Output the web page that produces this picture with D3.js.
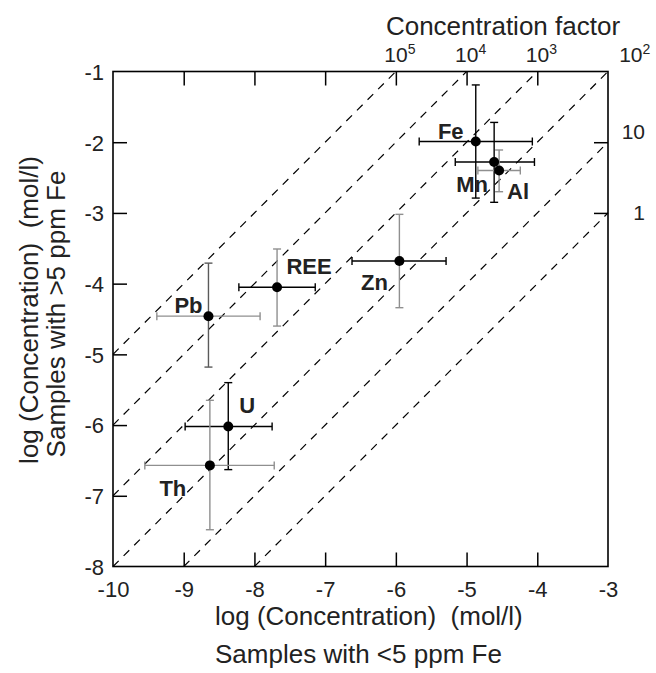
<!DOCTYPE html>
<html>
<head>
<meta charset="utf-8">
<script src="https://cdn.jsdelivr.net/npm/d3@7"></script>
<style>
  html, body { margin: 0; padding: 0; background: #fff; }
  svg { display: block; font-family: "Liberation Sans", Arial, Helvetica, sans-serif; }
  text { white-space: pre; }
</style>
</head>
<body>
<svg id="chart" width="656" height="673"></svg>
<script>
// ---- data ----
const elements = ["Fe", "Mn", "Al", "Pb", "REE", "Zn", "U", "Th"];
const xVal  = [-4.87, -4.61, -4.54, -8.65, -7.68, -5.95, -8.37, -8.63];
const yVal  = [-1.99, -2.28, -2.40, -4.46, -4.05, -3.68, -6.02, -6.57];
const xLow  = [-5.67, -5.16, -4.84, -9.38, -8.22, -6.62, -8.98, -9.55];
const xHigh = [-4.07, -4.04, -4.24, -7.92, -7.14, -5.29, -7.75, -7.72];
const yLow  = [-2.79, -2.85, -2.70, -5.18, -4.60, -4.34, -6.63, -7.48];
const yHigh = [-1.19, -1.72, -2.11, -3.71, -3.51, -3.02, -5.40, -5.65];

const xTicks = [-10, -9, -8, -7, -6, -5, -4, -3];
const yTicks = [-1, -2, -3, -4, -5, -6, -7, -8];
const factorLines = [0, 1, 2, 3, 4, 5];          // log10 concentration factor
const topFactorExp = [5, 4, 3, 2];
const topFactorX = [-6, -5, -4, -2.68];
const rightFactorLabel = ["10", "1"];
const rightFactorY = [-1.85, -3.0];

// ---- styles (separate from data) ----
const GRAY = "#8f8f8f", DGRAY = "#5a5a5a", BLACK = "#000";
const hColor = [BLACK, BLACK, GRAY, GRAY, BLACK, BLACK, BLACK, GRAY];
const vColor = [BLACK, BLACK, GRAY, DGRAY, GRAY, GRAY, BLACK, GRAY];
const labelOffset = [[-25, -3], [-22, 30], [19, 28], [-20, -3], [32, -13], [-25, 29], [19, -13], [-37, 31]];

// ---- layout ----
const L = 113, R = 608, T = 71.5, B = 566.5;
const svg = d3.select("#chart");
const x = d3.scaleLinear().domain([-10, -3]).range([L, R]);
const y = d3.scaleLinear().domain([-8, -1]).range([B, T]);

// dashed iso-factor lines y = x + c
const dash = svg.append("g");
factorLines.forEach(c => {
  const x0 = Math.max(-10, -8 - c), x1 = Math.min(-3, -1 - c);
  dash.append("line")
    .attr("x1", x(x0)).attr("y1", y(x0 + c))
    .attr("x2", x(x1)).attr("y2", y(x1 + c))
    .attr("stroke", "#000").attr("stroke-width", 1.2)
    .attr("stroke-dasharray", "8,7");
});

// error bars
const cap = 4;
const eb = svg.append("g").attr("stroke-width", 1.4).attr("fill", "none");
elements.forEach((e, i) => {
  const cx = x(xVal[i]), cy = y(yVal[i]);
  const hc = hColor[i], vc = vColor[i];
  eb.append("line").attr("x1", x(xLow[i])).attr("x2", x(xHigh[i])).attr("y1", cy).attr("y2", cy).attr("stroke", hc);
  eb.append("line").attr("x1", x(xLow[i])).attr("x2", x(xLow[i])).attr("y1", cy - cap).attr("y2", cy + cap).attr("stroke", hc);
  eb.append("line").attr("x1", x(xHigh[i])).attr("x2", x(xHigh[i])).attr("y1", cy - cap).attr("y2", cy + cap).attr("stroke", hc);
  eb.append("line").attr("x1", cx).attr("x2", cx).attr("y1", y(yLow[i])).attr("y2", y(yHigh[i])).attr("stroke", vc);
  eb.append("line").attr("x1", cx - cap).attr("x2", cx + cap).attr("y1", y(yLow[i])).attr("y2", y(yLow[i])).attr("stroke", vc);
  eb.append("line").attr("x1", cx - cap).attr("x2", cx + cap).attr("y1", y(yHigh[i])).attr("y2", y(yHigh[i])).attr("stroke", vc);
});

// points
svg.append("g").selectAll("circle").data(elements).join("circle")
  .attr("cx", (d, i) => x(xVal[i])).attr("cy", (d, i) => y(yVal[i]))
  .attr("r", 5).attr("fill", "#000");

// element labels
svg.append("g").selectAll("text").data(elements).join("text")
  .attr("x", (d, i) => x(xVal[i]) + labelOffset[i][0])
  .attr("y", (d, i) => y(yVal[i]) + labelOffset[i][1])
  .attr("text-anchor", "middle")
  .attr("font-size", 22).attr("font-weight", "bold").attr("fill", "#222")
  .text(d => d);

// axes (ticks inward)
const fmt = d => String(d);
const tickLen = 14;
const axB = svg.append("g").attr("transform", `translate(0,${B})`)
  .call(d3.axisBottom(x).tickValues(xTicks).tickSize(-tickLen).tickPadding(15).tickFormat(fmt));
const axT = svg.append("g").attr("transform", `translate(0,${T})`)
  .call(d3.axisTop(x).tickValues(xTicks.slice(1, -1)).tickSize(-tickLen).tickFormat(""));
const axL = svg.append("g").attr("transform", `translate(${L},0)`)
  .call(d3.axisLeft(y).tickValues(yTicks).tickSize(-tickLen).tickPadding(9).tickFormat(fmt));
const axR = svg.append("g").attr("transform", `translate(${R},0)`)
  .call(d3.axisRight(y).tickValues([-2, -3]).tickSize(-tickLen).tickFormat(""));
[axB, axT, axL, axR].forEach(a => {
  a.select(".domain").remove();
  a.selectAll(".tick line").attr("stroke", "#000").attr("stroke-width", 1.5);
  a.selectAll("text").attr("font-size", 22).attr("fill", "#222").attr("font-family", null);
});
axB.selectAll(".tick").filter(d => d === -10 || d === -3).select("line").remove();
axL.selectAll(".tick").filter(d => d === -1 || d === -8).select("line").remove();
axL.selectAll(".tick text").attr("dy", "0.36em");

// frame
svg.append("rect").attr("x", L).attr("y", T).attr("width", R - L).attr("height", B - T)
  .attr("fill", "none").attr("stroke", "#000").attr("stroke-width", 1.6);

// concentration factor labels
const tf = svg.append("g").attr("font-size", 21).attr("fill", "#222");
topFactorExp.forEach((e, i) => {
  const t = tf.append("text").attr("x", x(topFactorX[i]) - 11.5).attr("y", 62);
  t.append("tspan").text("10");
  t.append("tspan").attr("font-size", 14).attr("dy", -8).text(String(e));
});
rightFactorLabel.forEach((s, i) => {
  tf.append("text").attr("x", 645).attr("y", y(rightFactorY[i]))
    .attr("dy", "0.36em").attr("text-anchor", "end").text(s);
});

// titles
svg.append("text").attr("x", 503).attr("y", 35).attr("text-anchor", "middle")
  .attr("font-size", 26).attr("fill", "#222").text("Concentration factor");
svg.append("text").attr("x", 215).attr("y", 625)
  .attr("font-size", 26).attr("fill", "#222").text("log (Concentration)  (mol/l)");
svg.append("text").attr("x", 215).attr("y", 663)
  .attr("font-size", 26).attr("fill", "#222").text("Samples with <5 ppm Fe");
svg.append("text").attr("transform", "translate(38,310) rotate(-90)").attr("text-anchor", "middle")
  .attr("font-size", 26).attr("fill", "#222").text("log (Concentration)  (mol/l)");
svg.append("text").attr("transform", "translate(65,314) rotate(-90)").attr("text-anchor", "middle")
  .attr("font-size", 26).attr("fill", "#222").text("Samples with >5 ppm Fe");
</script>
</body>
</html>
